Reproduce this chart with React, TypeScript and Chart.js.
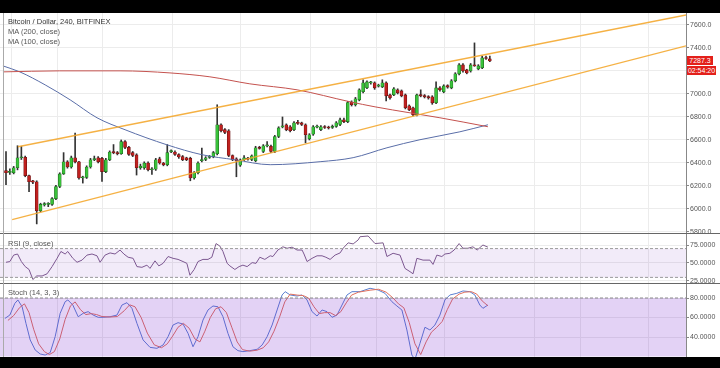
import React, { useEffect, useRef } from 'react';
import { Chart, registerables } from 'chart.js';
Chart.register(...registerables);

// ---- data ----
const opens = [6333,6318,6315,6358,6445,6450,6290,6245,6237,5985,6035,6040,6040,6090,6195,6305,6410,6365,6445,6410,6270,6275,6365,6428,6445,6440,6325,6428,6498,6490,6480,6585,6535,6490,6470,6358,6358,6400,6341,6345,6437,6400,6385,6498,6495,6472,6455,6445,6440,6270,6315,6420,6430,6448,6455,6480,6732,6690,6680,6465,6437,6380,6428,6442,6430,6420,6535,6500,6548,6545,6500,6630,6713,6732,6715,6689,6752,6748,6732,6610,6650,6712,6690,6716,6712,6708,6718,6735,6775,6760,6930,6906,6949,7020,7053,7096,7097,7068,7062,7097,6992,6992,7036,7027,6992,6897,6880,6819,6994,6986,6977,6975,6923,7053,7018,7072,7053,7114,7175,7253,7209,7200,7253,7218,7227,7316,7305];
const highs = [6498,6350,6370,6550,6545,6460,6295,6250,6245,6050,6055,6055,6100,6205,6315,6490,6420,6460,6660,6415,6285,6375,6440,6460,6455,6450,6440,6505,6560,6500,6600,6595,6545,6500,6480,6390,6410,6410,6360,6440,6450,6405,6560,6515,6505,6480,6465,6450,6450,6325,6410,6530,6455,6465,6500,6906,6740,6700,6690,6470,6445,6435,6465,6450,6470,6545,6545,6560,6585,6555,6640,6715,6800,6740,6725,6760,6770,6755,6740,6655,6725,6730,6725,6725,6720,6730,6760,6790,6790,6935,6940,6970,7045,7123,7115,7110,7105,7085,7123,7105,7000,7055,7045,7035,7000,6905,6885,7000,7036,6995,6985,6985,7105,7065,7080,7080,7125,7185,7265,7265,7215,7265,7444,7255,7330,7330,7330];
const lows = [6211,6300,6305,6340,6430,6280,6150,6220,5870,5975,6025,6020,6030,6080,6185,6300,6355,6355,6400,6260,6225,6265,6355,6420,6400,6240,6315,6420,6480,6470,6475,6525,6465,6455,6295,6345,6345,6330,6300,6335,6390,6375,6375,6490,6465,6440,6420,6420,6245,6260,6305,6410,6420,6440,6445,6470,6670,6655,6455,6420,6280,6370,6420,6425,6420,6410,6520,6490,6540,6490,6490,6620,6705,6680,6670,6680,6735,6725,6575,6600,6640,6705,6680,6700,6695,6700,6710,6725,6750,6750,6895,6895,6940,7010,7045,7085,7040,7060,7055,6940,6955,6985,7000,6975,6870,6855,6810,6810,6975,6965,6955,6910,6915,7025,7010,7050,7045,7105,7165,7190,7175,7190,7240,7210,7220,7300,7280];
const closes = [6315,6326,6358,6445,6452,6290,6237,6232,5985,6040,6046,6048,6090,6195,6305,6410,6365,6445,6410,6270,6278,6365,6428,6438,6410,6325,6428,6495,6490,6481,6585,6535,6475,6465,6358,6372,6400,6341,6350,6428,6400,6385,6490,6507,6475,6452,6428,6428,6270,6315,6400,6430,6445,6457,6490,6732,6680,6665,6465,6428,6420,6428,6445,6434,6463,6532,6526,6550,6557,6500,6630,6705,6722,6689,6680,6750,6744,6735,6645,6645,6715,6720,6715,6708,6704,6718,6750,6775,6760,6925,6906,6958,7036,7097,7105,7104,7053,7077,7097,6984,6966,7045,7010,6984,6880,6862,6819,6992,6984,6975,6966,6923,7053,7036,7070,7060,7114,7175,7253,7200,7183,7253,7244,7244,7314,7308,7287];

// moving averages [barIndex, price]
const ma200 = [[-0.8,7192],[14,7201],[29.7,7201],[42.7,7183],[53.1,7149],[63.5,7088],[75.8,7036],[89.6,6932],[96.1,6888],[105.2,6836],[113,6793],[125.5,6715]];
const ma100 = [[-0.8,7244],[3.6,7192],[10.2,7079],[16.7,6949],[23.7,6793],[31,6689],[41.9,6558],[51,6472],[59.6,6428],[68.8,6385],[81.8,6411],[90.4,6446],[99.2,6532],[107.8,6602],[118.2,6671],[125.5,6732]];
// channel lines [barIndex, price]
const upperChannel = [[3.1,6541],[177.1,7687]];
const lowerChannel = [[1.6,5907],[177.1,7418]];

const rsiValues = [[0,51],[1,52],[2,61],[3,62.5],[4,52],[5,45],[6,41],[7,27],[8,32],[9.4,32],[10.7,35],[12,45],[13.3,56.5],[14.3,66],[15.4,62.5],[16.1,66],[17.4,56.5],[18.5,51],[19.8,54],[21.1,61],[22.4,62.5],[23.7,60],[24.5,51],[25.8,61],[27.1,64],[28.4,62.5],[29.7,68],[30.7,62.5],[31.8,58],[33.1,56.5],[34.1,45],[35.4,44],[36.7,47],[37.5,42.5],[38.8,53],[39.8,46],[40.9,49.5],[42.2,59],[43.5,56.5],[44.8,55],[46.1,52],[47.1,49.5],[47.9,33],[49,41],[50,52],[51.3,55],[52.6,55],[53.6,58],[54.7,77],[55.7,73.5],[56.5,66],[57.6,49.5],[58.3,46],[59.6,41],[60.7,45],[61.7,47],[62.8,45],[64.1,50.5],[65.1,49.5],[66.1,58],[67.4,55],[68.8,60],[69.5,59],[70.8,68],[72.1,72.5],[73.2,70.5],[74.5,72],[75.8,68],[77.1,68],[77.6,62.5],[78.4,52],[79.7,56.5],[81,60],[82.3,60],[83.3,58],[84.4,55],[85.7,61],[87,64],[87.8,70.5],[89.1,78],[90.4,76.5],[91.7,82],[92.2,86.5],[94.3,87.5],[96.1,77],[98.2,78],[99.2,59],[100.8,63.5],[102.6,61],[103.9,42.5],[105.2,38],[106,35],[107,56.5],[108.6,54],[110.4,54],[111.2,48],[112.2,61],[113.5,59],[114.3,62.5],[115.6,63.5],[116.7,68],[118,77],[119,70.5],[120.3,70.5],[121.6,72.5],[122.7,68],[124.2,75],[125.5,72]];

const stochK = [[-0.3,59],[1,62.5],[2.3,74.5],[3.1,78],[4.2,71],[5.2,54],[6.3,37],[7.6,26.7],[8.9,22.6],[10.2,21.5],[11.5,24],[12.8,40.3],[14.1,64.3],[15.4,76.2],[16.1,78],[17.4,72.8],[18.8,60.8],[20.1,64.3],[21.4,66],[22.7,62.5],[24,60.2],[25.3,60.2],[27.1,60.8],[28.9,62.5],[30.2,72.8],[31.5,75.2],[32.8,69.4],[34.1,54],[35.7,37],[37.5,29.4],[39.3,28.4],[40.9,31.8],[42.2,40.3],[43.5,52.3],[44.8,54.7],[46.1,53.3],[47.4,43.8],[48.7,30],[50,40.3],[51.3,57.4],[52.6,67.7],[53.9,71.8],[55.2,71],[56.5,60.8],[57.8,43.8],[59.1,30],[60.4,26],[61.7,25],[63.5,26],[65.4,27.4],[66.7,31.8],[68,40.3],[69.3,52.3],[70.6,67.7],[71.9,83.1],[72.7,86.5],[74,83.1],[75.8,82],[77.1,83.1],[78.4,78],[79.7,66],[81,61.5],[82.3,67.7],[83.6,66],[84.9,60.2],[86.2,62.5],[87.5,72.8],[88.8,83.1],[90.1,86.5],[92.2,86.5],[94.8,90],[96.9,88.2],[98.7,84.8],[100.5,76.2],[101.8,71.8],[103.1,67.7],[104.4,47.2],[105.7,21.5],[106.5,17],[107.8,33.5],[109.1,50],[110.4,47.2],[111.7,52.3],[113,62.5],[114.3,78],[115.6,83.1],[117.4,84.8],[119,87.2],[120.8,86.5],[122.1,83.1],[123.4,72.8],[124.2,69.4],[125.5,72.8]];
const stochD = [[0.5,57],[2,62],[3.5,70],[4.8,74],[6,65],[7.2,48],[8.5,33],[10,25],[11.3,22],[12.6,25],[14,38],[15.4,58],[16.8,72],[18,76],[19.4,68],[20.8,63],[22.2,64],[23.6,63],[25,61],[27,60.5],[29,61],[30.8,67],[32.2,73],[33.6,71],[35.2,60],[36.8,44],[38.6,32],[40.5,29],[42,33],[43.4,41],[44.8,50],[46.2,54],[47.7,49],[49.2,38],[50.5,35],[51.8,46],[53.2,60],[54.6,69],[56,71],[57.4,65],[58.8,50],[60.2,35],[61.6,27],[63.5,25.5],[65.4,26.5],[67,29],[68.4,35],[69.8,46],[71.2,60],[72.6,76],[74,84],[75.8,83],[77.4,82.5],[78.8,80],[80.2,71],[81.6,64],[83,65],[84.4,65],[85.8,62],[87.2,66],[88.6,75],[90,83],[91.8,86],[94.8,88],[97,89],[99,86],[100.8,80],[102.2,74],[103.6,70],[105,55],[106.5,33],[108,22],[109.4,35],[110.8,45],[112.2,50],[113.6,56],[114.9,68],[116.3,79],[118,84],[119.5,86],[121.2,86.5],[122.6,84],[124,77],[125.5,72]];

const priceTicks = [5800,6000,6200,6400,6600,6800,7000,7200,7400,7600];
const rsiTicks = [25,50,75];
const stochTicks = [40,60,80];
const gridX = [1.56,13.54,25.26,43.23,60.94,79.17,96.61,114.32,137.76,149.48,167.19];

const X_MIN = -1.5625;
const X_MAX = 177.083;

const pts = (arr: number[][]) => arr.map(([x, y]) => ({ x, y }));

function xScale(): any {
  return {
    type: 'linear', min: X_MIN, max: X_MAX, offset: false,
    grid: { color: '#ececec', drawTicks: false, offset: false },
    border: { display: false },
    ticks: { display: false },
    afterBuildTicks: (s: any) => { s.ticks = gridX.map(v => ({ value: v })); },
    afterFit: (s: any) => { s.height = 0; s.paddingLeft = 0; s.paddingRight = 0; },
  };
}
function yScale(min: number, max: number, ticks: number[], digits: number): any {
  return {
    type: 'linear', position: 'right', min, max,
    afterBuildTicks: (s: any) => { s.ticks = ticks.map(v => ({ value: v })); },
    ticks: { autoSkip: false, color: '#555', font: { size: 7, family: 'Liberation Sans' }, padding: 1, callback: (v: any) => Number(v).toFixed(digits) },
    grid: { color: '#ececec', tickColor: '#888', tickLength: 3 },
    border: { color: '#888' },
    afterFit: (s: any) => { s.width = 34; s.paddingTop = 0; s.paddingBottom = 0; },
  };
}
const baseOpts = {
  animation: false, responsive: false, devicePixelRatio: 1,
  layout: { padding: 0 },
  plugins: { legend: { display: false }, tooltip: { enabled: false } },
  events: [],
};

export default function App() {
  const mainRef = useRef<HTMLCanvasElement>(null);
  const rsiRef = useRef<HTMLCanvasElement>(null);
  const stochRef = useRef<HTMLCanvasElement>(null);

  useEffect(() => {
    const up = opens.map((o, i) => closes[i] >= o);
    const main = new Chart(mainRef.current!, {
      type: 'bar',
      data: {
        datasets: [
          { type: 'line', data: pts(upperChannel), borderColor: 'rgba(244,168,48,0.9)', borderWidth: 1.3, pointRadius: 0, order: 0 } as any,
          { type: 'line', data: pts(lowerChannel), borderColor: 'rgba(244,168,48,0.9)', borderWidth: 1.3, pointRadius: 0, order: 0 } as any,
          { type: 'line', data: pts(ma200), borderColor: '#c4524e', borderWidth: 1, pointRadius: 0, cubicInterpolationMode: 'monotone', order: 1 } as any,
          { type: 'line', data: pts(ma100), borderColor: '#5a6ea8', borderWidth: 1, pointRadius: 0, cubicInterpolationMode: 'monotone', order: 1 } as any,
          { type: 'bar', data: opens.map((o, i) => ({ x: i, y: [Math.min(o, closes[i]), Math.max(o, closes[i])] })), backgroundColor: up.map(u => u ? '#39c23a' : '#c0201f'), borderColor: up.map(u => u ? '#1d6a1d' : '#6a1010'), borderWidth: 0.6, borderSkipped: false, barThickness: 3, minBarLength: 1, grouped: false, order: 2 } as any,
          { type: 'bar', data: opens.map((o, i) => ({ x: i, y: [lows[i], highs[i]] })), backgroundColor: '#333', barThickness: 1, grouped: false, order: 3 } as any,
        ],
      },
      options: { ...baseOpts, scales: { x: xScale(), y: yScale(5791, 7704, priceTicks, 1) } } as any,
    });
    const rsi = new Chart(rsiRef.current!, {
      type: 'line',
      data: {
        datasets: [
          { data: pts([[X_MIN, 70], [X_MAX, 70]]), borderColor: '#9a9a9a', borderWidth: 1, borderDash: [3, 2], pointRadius: 0, fill: false },
          { data: pts([[X_MIN, 30], [X_MAX, 30]]), borderColor: '#9a9a9a', borderWidth: 1, borderDash: [3, 2], pointRadius: 0, fill: '-1', backgroundColor: 'rgba(115,35,185,0.09)' },
          { data: pts(rsiValues), borderColor: '#7d5c8c', borderWidth: 1, pointRadius: 0, fill: false },
        ],
      },
      options: { ...baseOpts, scales: { x: xScale(), y: yScale(22.2, 90.3, rsiTicks, 4) } } as any,
    });
    const stoch = new Chart(stochRef.current!, {
      type: 'line',
      data: {
        datasets: [
          { data: pts([[X_MIN, 80], [X_MAX, 80]]), borderColor: '#8a8a8a', borderWidth: 1, borderDash: [3, 2], pointRadius: 0, fill: false },
          { data: pts([[X_MIN, 20], [X_MAX, 20]]), borderColor: 'rgba(0,0,0,0)', borderWidth: 0, pointRadius: 0, fill: '-1', backgroundColor: 'rgba(115,30,205,0.2)' },
          { data: pts(stochD), borderColor: '#e0705e', borderWidth: 1, pointRadius: 0, fill: false },
          { data: pts(stochK), borderColor: '#5a7fd0', borderWidth: 1, pointRadius: 0, fill: false },
        ],
      },
      options: { ...baseOpts, scales: { x: xScale(), y: yScale(19.5, 94.36, stochTicks, 4) } } as any,
    });
    return () => { main.destroy(); rsi.destroy(); stoch.destroy(); };
  }, []);

  const txt: React.CSSProperties = { position: 'absolute', left: 8, fontFamily: 'Liberation Sans, Arial, sans-serif', fontSize: 7.5, whiteSpace: 'nowrap', lineHeight: '9px' };
  return (
    <div style={{ position: 'absolute', left: 0, top: 0, width: 720, height: 368, background: '#000', overflow: 'hidden' }}>
      <div style={{ position: 'absolute', left: 0, top: 13, width: 720, height: 220, background: '#fff' }}>
        <canvas ref={mainRef} width={720} height={220} style={{ display: 'block' }} />
      </div>
      <div style={{ position: 'absolute', left: 0, top: 234, width: 720, height: 49, background: '#fff' }}>
        <canvas ref={rsiRef} width={720} height={49} style={{ display: 'block' }} />
      </div>
      <div style={{ position: 'absolute', left: 0, top: 284, width: 720, height: 73, background: '#fff' }}>
        <canvas ref={stochRef} width={720} height={73} style={{ display: 'block' }} />
      </div>
      <div style={{ position: 'absolute', left: 0, top: 233, width: 720, height: 1, background: '#666' }} />
      <div style={{ position: 'absolute', left: 0, top: 283, width: 720, height: 1, background: '#666' }} />
      <div style={{ position: 'absolute', left: 3, top: 13, width: 1, height: 344, background: '#aaa' }} />
      <div style={{ ...txt, top: 17, color: '#333' }}>Bitcoin / Dollar, 240, BITFINEX</div>
      <div style={{ ...txt, top: 27, color: '#555' }}>MA (200, close)</div>
      <div style={{ ...txt, top: 37, color: '#555' }}>MA (100, close)</div>
      <div style={{ ...txt, top: 239, color: '#555' }}>RSI (9, close)</div>
      <div style={{ ...txt, top: 288, color: '#555' }}>Stoch (14, 3, 3)</div>
      <div style={{ position: 'absolute', left: 687, top: 56, width: 26, height: 9, background: '#e3201b', color: '#fff', fontFamily: 'Liberation Sans, Arial, sans-serif', fontSize: 7, lineHeight: '9px', textAlign: 'center' }}>7287.3</div>
      <div style={{ position: 'absolute', left: 687, top: 66, width: 29, height: 9, background: '#e3201b', color: '#fff', fontFamily: 'Liberation Sans, Arial, sans-serif', fontSize: 7, lineHeight: '9px', textAlign: 'center' }}>02:54:20</div>
    </div>
  );
}
